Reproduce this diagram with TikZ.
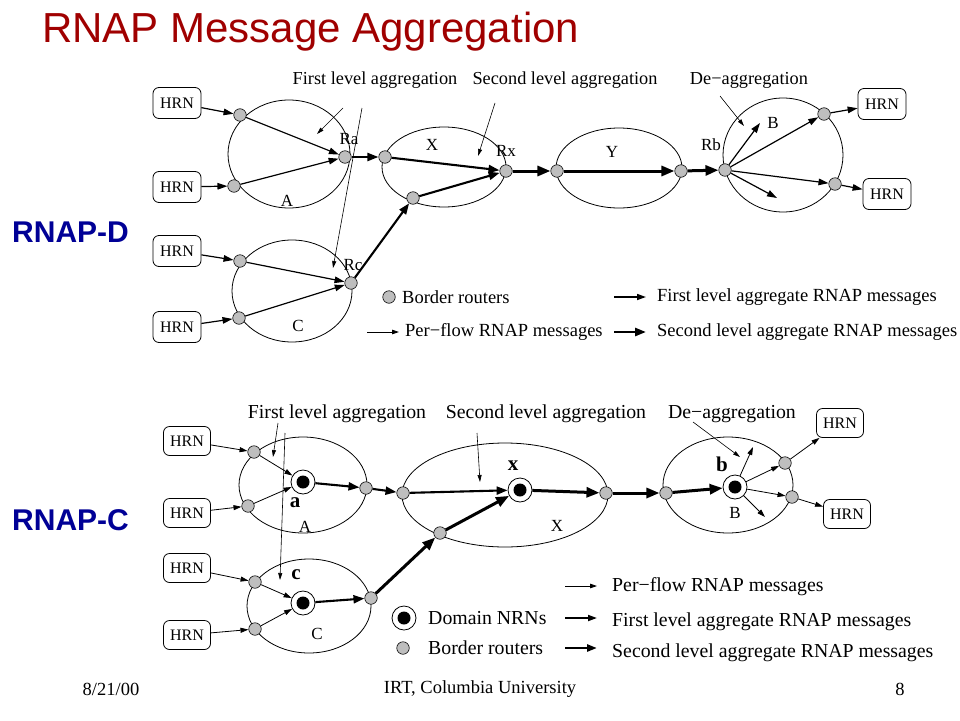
\documentclass[tikz,border=0pt]{standalone}
\usepackage{fontspec}
\setmainfont{Liberation Serif}
\newfontfamily\arialf{Liberation Sans}
\usetikzlibrary{arrows.meta,shapes.geometric}
\definecolor{titlered}{RGB}{160,0,0}
\definecolor{labblue}{RGB}{0,0,150}
\definecolor{brgray}{RGB}{190,190,190}
\newcommand{\fs}[1]{\fontsize{#1}{#1}\selectfont}
\tikzset{
  hrn/.style={draw,rounded corners=6pt,minimum width=48pt,minimum height=31pt,inner sep=0pt,font=\fs{16},line width=0.8pt},
  hrnb/.style={hrn,minimum width=47pt,minimum height=29pt},
  br/.style={circle,draw,fill=brgray,minimum size=12.5pt,inner sep=0pt,line width=0.6pt},
  nrn/.style={circle,draw,fill=white,minimum size=24pt,inner sep=0pt,line width=0.8pt,
    path picture={\fill[black] (path picture bounding box.center) circle (6.5pt);}},
  dom/.style={ellipse,draw,line width=0.8pt,inner sep=0pt},
  pf/.style={-{Triangle[length=10pt,width=6.5pt]},line width=1.2pt},
  pft/.style={-{Triangle[length=8pt,width=5pt]},line width=0.8pt},
  fl/.style={-{Triangle[length=11pt,width=8pt]},line width=2.1pt},
  sl/.style={-{Triangle[length=13pt,width=10pt]},line width=3pt},
  ann/.style={-{Triangle[length=7pt,width=4pt]},line width=0.6pt},
  lab/.style={inner sep=0pt,font=\fs{18.3}},
  labb/.style={inner sep=0pt,font=\fs{19.8}},
  rl/.style={inner sep=0pt,font=\fs{17}},
  bl/.style={inner sep=0pt,font=\bfseries\fs{21}},
  leg/.style={inner sep=0pt,anchor=west,font=\fs{18.5}},
  legb/.style={inner sep=0pt,anchor=west,font=\fs{19.8}},
}
\begin{document}
\begin{tikzpicture}[x=1pt,y=-1pt]
\useasboundingbox (0,0) rectangle (960,720);
\fill[white] (0,0) rectangle (960,720);
% title
\node[anchor=west,inner sep=0pt,text=titlered,font=\arialf\fs{42}] (title) at (42,32) {RNAP Message Aggregation};
% side labels
\node[anchor=west,inner sep=0pt,text=labblue,font=\arialf\bfseries\fs{30}] (rnapd) at (12,232) {RNAP-D};
\node[anchor=west,inner sep=0pt,text=labblue,font=\arialf\bfseries\fs{30}] (rnapc) at (12,520) {RNAP-C};

%%%%%%%%%%%%%%%% TOP (RNAP-D) %%%%%%%%%%%%%%%%
\node[hrn] (h1) at (177,103) {HRN};
\node[hrn] (h2) at (177,187) {HRN};
\node[hrn] (h3) at (177,251) {HRN};
\node[hrn] (h4) at (177,327) {HRN};
\node[hrn] (h5) at (882,104) {HRN};
\node[hrn] (h6) at (887,194) {HRN};

\node[dom,minimum width=122pt,minimum height=108pt] (dA) at (289,154) {};
\node[dom,minimum width=120pt,minimum height=102pt] (dC) at (292,291) {};
\node[dom,minimum width=124pt,minimum height=80pt] (dX) at (444,167) {};
\node[dom,minimum width=126pt,minimum height=80pt] (dY) at (619,168) {};
\node[dom,minimum width=120pt,minimum height=114pt] (dB) at (783,155) {};

\node[br] (a1) at (240,115) {};
\node[br] (a2) at (234,186) {};
\node[br] (ra) at (345,157) {};
\node[br] (c1) at (240,261) {};
\node[br] (c2) at (239,318) {};
\node[br] (rc) at (351,283) {};
\node[br] (x1) at (385,157) {};
\node[br] (x2) at (413,198) {};
\node[br] (rx) at (506,171) {};
\node[br] (y1) at (557,171) {};
\node[br] (y2) at (681,171) {};
\node[br] (rb) at (725,170) {};
\node[br] (b1) at (824,114) {};
\node[br] (b2) at (835,184) {};

\node[rl] (lra) at (349,139) {Ra};
\node[rl] (lrc) at (353,265) {Rc};
\node[rl] (lrx) at (506,151) {Rx};
\node[rl] (lrb) at (711,145) {Rb};
\node[rl] (lA) at (287,201) {A};
\node[rl] (lC) at (298,326) {C};
\node[rl] (lX) at (432,145) {X};
\node[rl] (lY) at (612,152) {Y};
\node[rl] (lB) at (773,123) {B};

\draw[pf] (h1) -- (a1);
\draw[pf] (h2) -- (a2);
\draw[pf] (h3) -- (c1);
\draw[pf] (h4) -- (c2);
\draw[pf] (a1) -- (ra);
\draw[pf] (a2) -- (ra);
\draw[pf] (c1) -- (rc);
\draw[pf] (c2) -- (rc);
\draw[fl] (ra) -- (x1);
\draw[fl] (rc) -- (x2);
\draw[fl] (x1) -- (rx);
\draw[fl] (x2) -- (rx);
\draw[sl] (rx) -- (y1);
\draw[sl] (y1) -- (y2);
\draw[sl] (y2) -- (rb);
\coordinate (rbu) at (760,123);
\coordinate (rbd) at (777,198);
\draw[pf] (rb) -- (rbu);
\draw[pf] (rb) -- (rbd);
\draw[pf] (rb) -- (b1);
\draw[pf] (rb) -- (b2);
\draw[pf] (b1) -- (h5);
\draw[pf] (b2) -- (h6);

\node[lab] (t1) at (375,80) {First level aggregation};
\node[lab] (t2) at (565,80) {Second level aggregation};
\node[lab] (t3) at (749,80) {De−aggregation};
\coordinate (an1s) at (343,108); \coordinate (an1e) at (317,134);
\coordinate (an2s) at (362,108); \coordinate (an2e) at (333,268);
\coordinate (an3s) at (495,103); \coordinate (an3e) at (478,156);
\coordinate (an4s) at (720,96);  \coordinate (an4e) at (744,126);
\draw[ann] (an1s) -- (an1e);
\draw[ann] (an2s) -- (an2e);
\draw[ann] (an3s) -- (an3e);
\draw[ann] (an4s) -- (an4e);

% top legend
\node[br] (lg1) at (389,297) {};
\node[leg] (lg1t) at (402,297) {Border routers};
\coordinate (lg2s) at (367,332); \coordinate (lg2e) at (399,332);
\draw[-{Triangle[length=7pt,width=4.5pt]},line width=0.8pt] (lg2s) -- (lg2e);
\node[leg] (lg2t) at (405,332) {Per−flow RNAP messages};
\coordinate (lg3s) at (614,297); \coordinate (lg3e) at (646,297);
\draw[-{Triangle[length=9pt,width=6pt]},line width=1.6pt] (lg3s) -- (lg3e);
\node[leg] (lg3t) at (657,297) {First level aggregate RNAP messages};
\coordinate (lg4s) at (614,332); \coordinate (lg4e) at (646,332);
\draw[-{Triangle[length=11pt,width=8pt]},line width=2.6pt] (lg4s) -- (lg4e);
\node[leg] (lg4t) at (657,332) {Second level aggregate RNAP messages};

%%%%%%%%%%%%%%%% BOTTOM (RNAP-C) %%%%%%%%%%%%%%%%
\node[hrnb] (h7) at (187,441) {HRN};
\node[hrnb] (h8) at (187,513) {HRN};
\node[hrnb] (h9) at (187,568) {HRN};
\node[hrnb] (h10) at (187,635) {HRN};
\node[hrnb] (h11) at (840,423) {HRN};
\node[hrnb] (h12) at (847,514) {HRN};

\node[dom,minimum width=128pt,minimum height=96pt] (eA) at (303,485) {};
\node[dom,minimum width=124pt,minimum height=94pt] (eC) at (309,606) {};
\node[dom,minimum width=206pt,minimum height=104pt] (eX) at (505,495) {};
\node[dom,minimum width=130pt,minimum height=96pt] (eB) at (728,485) {};

\node[br] (pa1) at (254,452) {};
\node[br] (pa2) at (248,506) {};
\node[nrn] (na) at (303,482) {};
\node[br] (pa3) at (366,488) {};
\node[br] (pc1) at (255,582) {};
\node[br] (pc2) at (255,629) {};
\node[nrn] (nc) at (303,603) {};
\node[br] (pc3) at (371,598) {};
\node[br] (px1) at (403,493) {};
\node[br] (px2) at (440,533) {};
\node[nrn] (nx) at (520,490) {};
\node[br] (px3) at (606,493) {};
\node[br] (pb1) at (666,493) {};
\node[nrn] (nb) at (735,487) {};
\node[br] (pb2) at (785,463) {};
\node[br] (pb3) at (792,497) {};

\node[bl] (la) at (295,503) {a};
\node[bl] (lc) at (296,575) {c};
\node[bl] (lx) at (513,466) {x};
\node[bl] (lb) at (722,464) {b};
\node[rl] (lA2) at (305,527) {A};
\node[rl] (lC2) at (317,634) {C};
\node[rl] (lX2) at (557,526) {X};
\node[rl] (lB2) at (735,513) {B};

\draw[pft] (h7) -- (pa1);
\draw[pft] (h8) -- (pa2);
\draw[pft] (h9) -- (pc1);
\draw[pft] (h10) -- (pc2);
\draw[pft] (pa1) -- (na);
\draw[pft] (pa2) -- (na);
\draw[pft] (pc1) -- (nc);
\draw[pft] (pc2) -- (nc);
\draw[fl] (na) -- (pa3);
\draw[fl] (pa3) -- (px1);
\draw[fl] (px1) -- (nx);
\draw[fl] (nc) -- (pc3);
\draw[sl] (pc3) -- (px2);
\draw[sl] (px2) -- (nx);
\draw[sl] (nx) -- (px3);
\draw[sl] (px3) -- (pb1);
\draw[sl] (pb1) -- (nb);
\coordinate (nbu) at (753,447);
\coordinate (nbd) at (765,517);
\draw[pft] (nb) -- (nbu);
\draw[pft] (nb) -- (nbd);
\draw[pft] (nb) -- (pb2);
\draw[pft] (nb) -- (pb3);
\draw[pft] (pb2) -- (h11);
\draw[pft] (pb3) -- (h12);

\node[labb] (u1) at (337,414) {First level aggregation};
\node[labb] (u2) at (546,414) {Second level aggregation};
\node[labb] (u3) at (732,414) {De−aggregation};
\coordinate (bn1s) at (278,423); \coordinate (bn1e) at (273,457);
\coordinate (bn2s) at (285,433); \coordinate (bn2e) at (280,580);
\coordinate (bn3s) at (477,433); \coordinate (bn3e) at (480,482);
\coordinate (bn4s) at (693,422); \coordinate (bn4e) at (740,457);
\draw[ann] (bn1s) -- (bn1e);
\draw[ann] (bn2s) -- (bn2e);
\draw[ann] (bn3s) -- (bn3e);
\draw[ann] (bn4s) -- (bn4e);

% bottom legend
\coordinate (lb1s) at (565,586); \coordinate (lb1e) at (597,586);
\draw[-{Triangle[length=7pt,width=4.5pt]},line width=0.8pt] (lb1s) -- (lb1e);
\node[legb] (lb1t) at (612,587) {Per−flow RNAP messages};
\node[nrn] (lb2) at (404,618) {};
\node[legb] (lb2t) at (428,618) {Domain NRNs};
\coordinate (lb3s) at (565,618); \coordinate (lb3e) at (597,618);
\draw[-{Triangle[length=9pt,width=6pt]},line width=1.8pt] (lb3s) -- (lb3e);
\node[legb] (lb3t) at (612,622) {First level aggregate RNAP messages};
\node[br] (lb4) at (403,648) {};
\node[legb] (lb4t) at (428,648) {Border routers};
\coordinate (lb5s) at (565,648); \coordinate (lb5e) at (597,648);
\draw[-{Triangle[length=10pt,width=7pt]},line width=2.6pt] (lb5s) -- (lb5e);
\node[legb] (lb5t) at (612,653) {Second level aggregate RNAP messages};

% footer
\node[inner sep=0pt,font=\fs{18.5}] (f1) at (111,689) {8/21/00};
\node[inner sep=0pt,font=\fs{18.5}] (f2) at (480,689) {IRT, Columbia University};
\node[inner sep=0pt,font=\fs{18.5}] (f3) at (900,689) {8};
\end{tikzpicture}
\end{document}
